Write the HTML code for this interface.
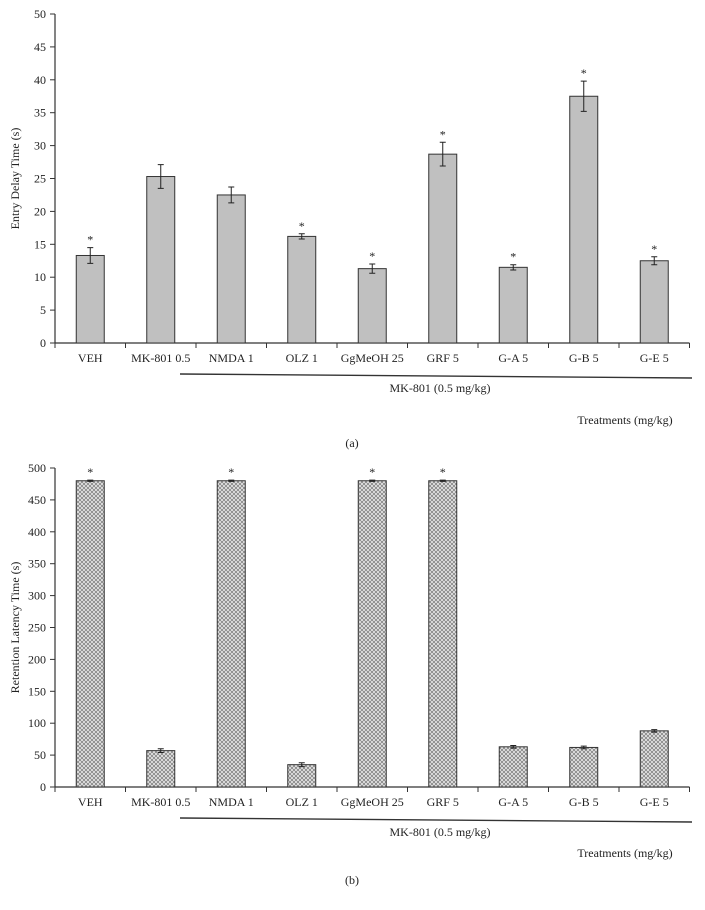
<!DOCTYPE html>
<html><head><meta charset="utf-8"><style>
body{margin:0;background:#fff;}
svg text{font-family:"Liberation Serif",serif;fill:#222;}
</style></head><body>
<svg id="s" width="705" height="905" xmlns="http://www.w3.org/2000/svg">
<defs>
<pattern id="hatch" width="4" height="4" patternUnits="userSpaceOnUse">
<rect width="4" height="4" fill="#e6e6e6"/>
<path d="M0,0L4,4M4,0L0,4" stroke="#777" stroke-width="0.7"/>
</pattern>
</defs>
</svg>
<script>
const categories=["VEH","MK-801 0.5","NMDA 1","OLZ 1","GgMeOH 25","GRF 5","G-A 5","G-B 5","G-E 5"];
const valuesA=[13.3,25.3,22.5,16.2,11.3,28.7,11.5,37.5,12.5];
const errorsA=[1.2,1.8,1.2,0.4,0.7,1.8,0.4,2.3,0.6];
const starsA=[1,0,0,1,1,1,1,1,1];
const ticksA=[0,5,10,15,20,25,30,35,40,45,50];
const valuesB=[480,57,480,35,480,480,63,62,88];
const errorsB=[1,3,1,3,1,1,2,2,2];
const starsB=[1,0,1,0,1,1,0,0,0];
const ticksB=[0,50,100,150,200,250,300,350,400,450,500];
const svg=document.getElementById('s');
const NS="http://www.w3.org/2000/svg";
function mk(tag,attrs,parent){const e=document.createElementNS(NS,tag);for(const k in attrs)e.setAttribute(k,attrs[k]);(parent||svg).appendChild(e);return e;}
function chart(cfg){
  const g=mk('g',{});
  
  
  const x0=55,cw=70.5,max=cfg.ticks[cfg.ticks.length-1];
  const y=v=>cfg.yb-(v/max)*(cfg.yb-cfg.yt);
  const x=i=>x0+cw*(i+0.5);
  const ax=mk('line',{x1:x0,y1:cfg.yt,x2:x0,y2:cfg.yb,stroke:'#333','stroke-width':1.2},g);
  
  
  const xa=mk('line',{x1:x0,y1:cfg.yb,x2:x0+cw*categories.length,y2:cfg.yb,stroke:'#333','stroke-width':1.2},g);
  
  
  cfg.ticks.forEach(t=>{
    mk('line',{x1:x0-5,y1:y(t),x2:x0,y2:y(t),stroke:'#333'},g);
    const tl=mk('text',{x:x0-9,y:y(t)+4,'text-anchor':'end','font-size':12},g);
    tl.textContent=t;
    
    
  });
  for(let i=0;i<=categories.length;i++)mk('line',{x1:x0+cw*i,y1:cfg.yb,x2:x0+cw*i,y2:cfg.yb+5,stroke:'#333'},g);
  categories.forEach((c,i)=>{
    const v=cfg.values[i],e=cfg.errors[i];
    const b=mk('rect',{x:x(i)-14,y:y(v),width:28,height:cfg.yb-y(v),fill:cfg.fill,stroke:'#333','stroke-width':1},g);
    
    
    const eb=mk('path',{d:`M${x(i)},${y(v+e)}V${y(v-e)}M${x(i)-3},${y(v+e)}h6M${x(i)-3},${y(v-e)}h6`,stroke:'#222',fill:'none'},g);
    
    
    if(cfg.stars[i]){const s=mk('text',{x:x(i),y:y(v+e)-4,'text-anchor':'middle','font-size':12},g);s.textContent='*';
      
      }
    const l=mk('text',{x:x(i),y:cfg.yb+19,'text-anchor':'middle','font-size':12},g);l.textContent=c;
    
    
  });
  const ln=mk('line',{x1:180,y1:cfg.yb+31,x2:692,y2:cfg.yb+35,stroke:'#333','stroke-width':1.4},g);
  
  
  const gl=mk('text',{x:440,y:cfg.yb+49,'text-anchor':'middle','font-size':12},g);gl.textContent='MK-801 (0.5 mg/kg)';
  
  
  const xt=mk('text',{x:625,y:cfg.yb+cfg.xtOff,'text-anchor':'middle','font-size':12},g);xt.textContent='Treatments (mg/kg)';
  
  
  const yt=mk('text',{x:0,y:0,'text-anchor':'middle','font-size':12,transform:`translate(19,${(cfg.yt+cfg.yb)/2}) rotate(-90)`},g);yt.textContent=cfg.ytitle;
  
  
  const p=mk('text',{x:352,y:cfg.yb+cfg.capOff,'text-anchor':'middle','font-size':12},g);p.textContent=cfg.cap;
  
  
}
chart({name:'chart-a',yt:14,yb:343,ticks:ticksA,values:valuesA,errors:errorsA,stars:starsA,fill:'#c0c0c0',ytitle:'Entry Delay Time (s)',cap:'(a)',xtOff:81,capOff:104});
chart({name:'chart-b',yt:468,yb:787,ticks:ticksB,values:valuesB,errors:errorsB,stars:starsB,fill:'url(#hatch)',ytitle:'Retention Latency Time (s)',cap:'(b)',xtOff:70,capOff:97});
</script>
</body></html>
